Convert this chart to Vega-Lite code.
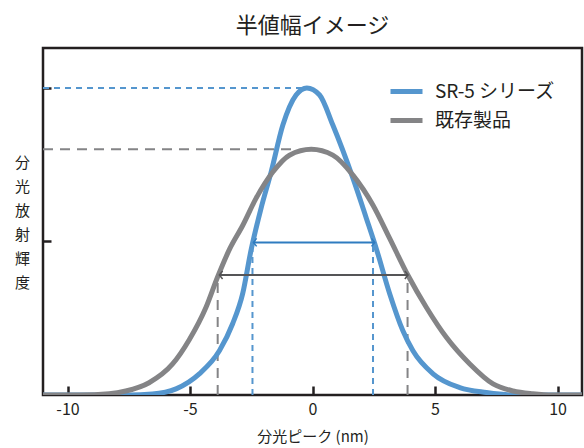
{
  "$schema": "https://vega.github.io/schema/vega-lite/v6.json",
  "width": 539,
  "height": 347,
  "autosize": {"type": "none"},
  "padding": {"left": 43, "top": 48, "right": 2, "bottom": 53},
  "background": "white",
  "config": {
    "view": {"stroke": "#231f20", "strokeWidth": 2.5},
    "font": "Noto Sans CJK JP"
  },
  "title": {"text": "半値幅イメージ", "fontSize": 22, "fontWeight": "normal", "color": "#231f20", "offset": 10, "anchor": "middle"},
  "datasets": {
    "curves": [
      {"x": -11, "y": 0, "series": "SR-5 シリーズ"},
      {"x": -9, "y": 0, "series": "SR-5 シリーズ"},
      {"x": -7.5, "y": 0, "series": "SR-5 シリーズ"},
      {"x": -6.54, "y": 0.003, "series": "SR-5 シリーズ"},
      {"x": -5.57, "y": 0.02, "series": "SR-5 シリーズ"},
      {"x": -4.62, "y": 0.069, "series": "SR-5 シリーズ"},
      {"x": -3.8, "y": 0.144, "series": "SR-5 シリーズ"},
      {"x": -3.26, "y": 0.232, "series": "SR-5 シリーズ"},
      {"x": -2.85, "y": 0.33, "series": "SR-5 シリーズ"},
      {"x": -2.51, "y": 0.471, "series": "SR-5 シリーズ"},
      {"x": -2.1, "y": 0.608, "series": "SR-5 シリーズ"},
      {"x": -1.69, "y": 0.726, "series": "SR-5 シリーズ"},
      {"x": -1.21, "y": 0.879, "series": "SR-5 シリーズ"},
      {"x": -0.67, "y": 0.977, "series": "SR-5 シリーズ"},
      {"x": -0.23, "y": 1.0, "series": "SR-5 シリーズ"},
      {"x": 0.29, "y": 0.977, "series": "SR-5 シリーズ"},
      {"x": 0.83, "y": 0.879, "series": "SR-5 シリーズ"},
      {"x": 1.65, "y": 0.706, "series": "SR-5 シリーズ"},
      {"x": 2.2, "y": 0.575, "series": "SR-5 シリーズ"},
      {"x": 2.61, "y": 0.475, "series": "SR-5 シリーズ"},
      {"x": 3.15, "y": 0.33, "series": "SR-5 シリーズ"},
      {"x": 3.69, "y": 0.209, "series": "SR-5 シリーズ"},
      {"x": 4.1, "y": 0.144, "series": "SR-5 シリーズ"},
      {"x": 4.92, "y": 0.069, "series": "SR-5 シリーズ"},
      {"x": 6.01, "y": 0.024, "series": "SR-5 シリーズ"},
      {"x": 7.1, "y": 0.008, "series": "SR-5 シリーズ"},
      {"x": 8.2, "y": 0, "series": "SR-5 シリーズ"},
      {"x": 9.5, "y": 0, "series": "SR-5 シリーズ"},
      {"x": 11, "y": 0, "series": "SR-5 シリーズ"},
      {"x": -11, "y": 0, "series": "既存製品"},
      {"x": -9.5, "y": 0, "series": "既存製品"},
      {"x": -8.3, "y": 0.004, "series": "既存製品"},
      {"x": -7.62, "y": 0.013, "series": "既存製品"},
      {"x": -6.67, "y": 0.04, "series": "既存製品"},
      {"x": -5.71, "y": 0.101, "series": "既存製品"},
      {"x": -5.03, "y": 0.18, "series": "既存製品"},
      {"x": -4.35, "y": 0.285, "series": "既存製品"},
      {"x": -3.87, "y": 0.385, "series": "既存製品"},
      {"x": -3.39, "y": 0.474, "series": "既存製品"},
      {"x": -2.85, "y": 0.552, "series": "既存製品"},
      {"x": -2.3, "y": 0.641, "series": "既存製品"},
      {"x": -1.62, "y": 0.726, "series": "既存製品"},
      {"x": -0.94, "y": 0.781, "series": "既存製品"},
      {"x": -0.05, "y": 0.8, "series": "既存製品"},
      {"x": 0.83, "y": 0.781, "series": "既存製品"},
      {"x": 1.65, "y": 0.716, "series": "既存製品"},
      {"x": 2.47, "y": 0.618, "series": "既存製品"},
      {"x": 3.15, "y": 0.51, "series": "既存製品"},
      {"x": 3.9, "y": 0.389, "series": "既存製品"},
      {"x": 4.65, "y": 0.285, "series": "既存製品"},
      {"x": 5.47, "y": 0.187, "series": "既存製品"},
      {"x": 6.42, "y": 0.101, "series": "既存製品"},
      {"x": 7.37, "y": 0.036, "series": "既存製品"},
      {"x": 8.19, "y": 0.013, "series": "既存製品"},
      {"x": 8.99, "y": 0.004, "series": "既存製品"},
      {"x": 9.8, "y": 0, "series": "既存製品"},
      {"x": 11, "y": 0, "series": "既存製品"}
    ],
    "hdashGray": [{"x": -11, "x2": -0.7, "y": 0.8}],
    "hdashBlue": [{"x": -11, "x2": -0.35, "y": 1.0}],
    "vdashGray": [
      {"x": -3.87, "y": 0, "y2": 0.39},
      {"x": 3.88, "y": 0, "y2": 0.39}
    ],
    "vdashBlue": [
      {"x": -2.45, "y": 0, "y2": 0.497},
      {"x": 2.47, "y": 0, "y2": 0.497}
    ],
    "arrowBlue": [{"x": -2.41, "x2": 2.54, "y": 0.497}],
    "arrowGray": [{"x": -3.8, "x2": 3.9, "y": 0.391}],
    "headsBlue": [
      {"x": -2.41, "y": 0.497, "dir": "left"},
      {"x": 2.54, "y": 0.497, "dir": "right"}
    ],
    "headsGray": [
      {"x": -3.8, "y": 0.391, "dir": "left"},
      {"x": 3.9, "y": 0.391, "dir": "right"}
    ]
  },
  "encoding": {
    "x": {
      "field": "x", "type": "quantitative",
      "scale": {"domain": [-11, 11], "nice": false, "zero": false},
      "axis": {
        "values": [-10, -5, 0, 5, 10], "tickSize": -9, "tickWidth": 2.5, "tickColor": "#231f20",
        "domain": false, "grid": false, "labelFontSize": 16, "labelColor": "#231f20", "labelPadding": 15,
        "labelExpr": "toString(datum.value)",
        "title": "分光ピーク (nm)", "titleFontSize": 15, "titleFontWeight": "normal", "titleColor": "#231f20", "titlePadding": 12
      }
    },
    "y": {
      "field": "y", "type": "quantitative",
      "scale": {"domain": [0, 1.13], "nice": false},
      "axis": {
        "values": [0.5, 1.0], "tickSize": -8, "tickWidth": 2.5, "tickColor": "#231f20",
        "domain": false, "grid": false, "labels": false,
        "title": ["分", "光", "放", "射", "輝", "度"], "titleAngle": 0, "titleFontSize": 15, "titleFontWeight": "normal",
        "titleColor": "#231f20", "titleLineHeight": 24, "titleX": -21, "titleY": 107, "titleAlign": "center", "titleBaseline": "top"
      }
    }
  },
  "layer": [
    {
      "data": {"name": "hdashGray"},
      "mark": {"type": "rule", "strokeWidth": 2, "color": "#848486", "strokeDash": [10, 7]},
      "encoding": {"x2": {"field": "x2"}}
    },
    {
      "data": {"name": "hdashBlue"},
      "mark": {"type": "rule", "strokeWidth": 2, "color": "#5596ce", "strokeDash": [6, 5]},
      "encoding": {"x2": {"field": "x2"}}
    },
    {
      "data": {"name": "vdashGray"},
      "mark": {"type": "rule", "strokeWidth": 2, "color": "#848486", "strokeDash": [10, 7]},
      "encoding": {"y2": {"field": "y2"}}
    },
    {
      "data": {"name": "vdashBlue"},
      "mark": {"type": "rule", "strokeWidth": 2, "color": "#5596ce", "strokeDash": [6, 5]},
      "encoding": {"y2": {"field": "y2"}}
    },
    {
      "data": {"name": "curves"},
      "mark": {"type": "line", "strokeWidth": 5, "interpolate": "monotone", "clip": true, "strokeCap": "round"},
      "encoding": {
        "color": {
          "field": "series", "type": "nominal",
          "scale": {"domain": ["SR-5 シリーズ", "既存製品"], "range": ["#5596ce", "#848486"]},
          "legend": {
            "title": null, "orient": "none", "legendX": 345, "legendY": 25, "padding": 0,
            "symbolType": "stroke", "symbolSize": 1024, "symbolStrokeWidth": 5,
            "labelFontSize": 19, "labelColor": "#231f20", "labelOffset": 10, "rowPadding": -1
          }
        },
        "order": {"field": "series", "sort": "descending"}
      }
    },
    {
      "data": {"name": "arrowBlue"},
      "mark": {"type": "rule", "strokeWidth": 2, "color": "#2f7cc0"},
      "encoding": {"x2": {"field": "x2"}}
    },
    {
      "data": {"name": "arrowGray"},
      "mark": {"type": "rule", "strokeWidth": 2, "color": "#555557"},
      "encoding": {"x2": {"field": "x2"}}
    },
    {
      "data": {"name": "headsBlue"},
      "mark": {"type": "point", "filled": false, "size": 64, "strokeWidth": 1.5, "opacity": 1, "color": "#2f7cc0"},
      "encoding": {
        "shape": {"field": "dir", "type": "nominal", "scale": {"domain": ["left", "right"], "range": ["M0.8,-1L0,0L0.8,1", "M-0.8,-1L0,0L-0.8,1"]}, "legend": null}
      }
    },
    {
      "data": {"name": "headsGray"},
      "mark": {"type": "point", "filled": false, "size": 64, "strokeWidth": 1.5, "opacity": 1, "color": "#555557"},
      "encoding": {
        "shape": {"field": "dir", "type": "nominal", "scale": {"domain": ["left", "right"], "range": ["M0.8,-1L0,0L0.8,1", "M-0.8,-1L0,0L-0.8,1"]}, "legend": null}
      }
    }
  ]
}
